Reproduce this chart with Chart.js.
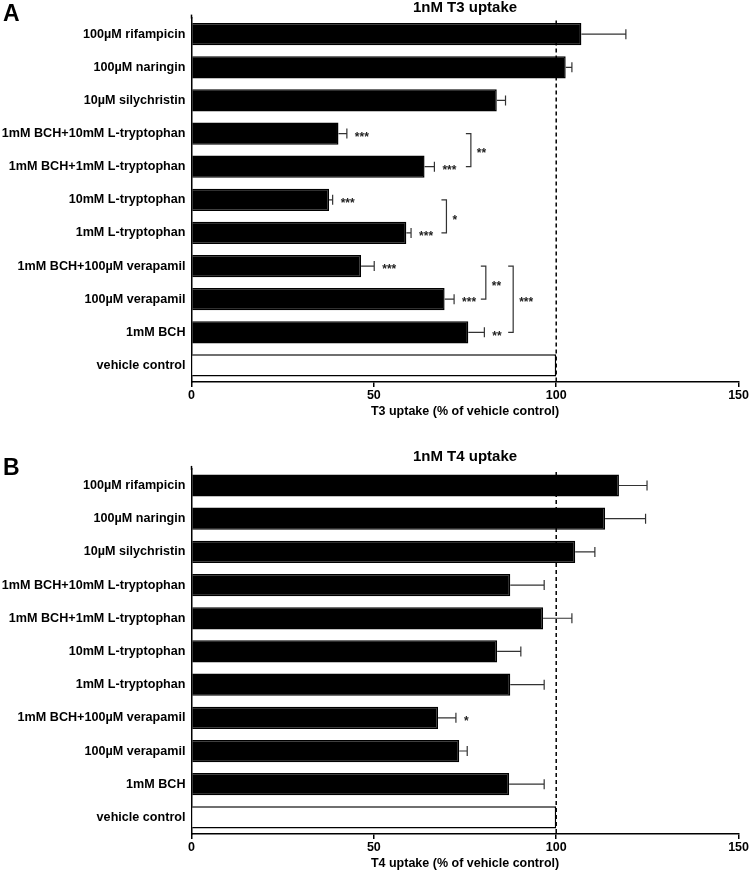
<!DOCTYPE html>
<html>
<head>
<meta charset="utf-8">
<script src="https://cdn.jsdelivr.net/npm/chart.js@4.4.1/dist/chart.umd.min.js"></script>
<style>
  body { margin: 0; background: #fff; }
  #wrap { position: relative; width: 750px; height: 871px; }
  canvas { position: absolute; left: 0; }
</style>
</head>
<body>
<div id="wrap">
  <canvas id="chartT3" width="750" height="435" style="top:0"></canvas>
  <canvas id="chartT4" width="750" height="436" style="top:435px"></canvas>
</div>
<script>
// ============ DATA ============

const categories = [
  '100µM rifampicin',
  '100µM naringin',
  '10µM silychristin',
  '1mM BCH+10mM L-tryptophan',
  '1mM BCH+1mM L-tryptophan',
  '10mM L-tryptophan',
  '1mM L-tryptophan',
  '1mM BCH+100µM verapamil',
  '100µM verapamil',
  '1mM BCH',
  'vehicle control'
];

// T3 uptake (% of vehicle control), mean and SEM
const t3Values = [106.9, 102.6, 83.7, 40.3, 63.9, 37.7, 58.9, 46.5, 69.4, 75.9, 100];
const t3Errors = [12.2, 1.7, 2.4, 2.3, 2.7, 1.0, 1.3, 3.6, 2.6, 4.4, 0];
const t3Stars = [null, null, null, '***', '***', '***', '***', '***', '***', '**', null];
const t3Brackets = [
  { from: 3, to: 4, x: 76.6, label: '**' },
  { from: 5, to: 6, x: 69.9, label: '*' },
  { from: 7, to: 8, x: 80.7, label: '**' },
  { from: 7, to: 9, x: 88.2, label: '***' }
];

// T4 uptake (% of vehicle control)
const t4Values = [117.2, 113.4, 105.2, 87.4, 96.4, 83.8, 87.4, 67.6, 73.4, 87.1, 100];
const t4Errors = [7.7, 11.1, 5.4, 9.3, 7.9, 6.5, 9.3, 4.9, 2.2, 9.6, 0];
const t4Stars = [null, null, null, null, null, null, null, '*', null, null, null];
const t4Brackets = [];

const xTicks = [0, 50, 100, 150];
const refLine = 100;

const FONT = '"Liberation Sans", Arial, Helvetica, sans-serif';
const controlIndex = categories.indexOf('vehicle control');

// ============ ANNOTATION PLUGIN ============

const annotate = {
  id: 'annotate',
  beforeDatasetsDraw(chart, args, opts) {
    const { ctx, chartArea, scales: { x } } = chart;
    const rx = x.getPixelForValue(opts.refLine);
    ctx.save();
    ctx.strokeStyle = '#000';
    ctx.lineWidth = 1.5;
    ctx.setLineDash([4, 3]);
    ctx.beginPath();
    ctx.moveTo(rx, chartArea.top + 3);
    ctx.lineTo(rx, chartArea.bottom);
    ctx.stroke();
    ctx.restore();
  },
  afterDatasetsDraw(chart, args, opts) {
    const { ctx, chartArea, scales: { x, y } } = chart;
    const bars = chart.getDatasetMeta(0).data;
    ctx.save();

    // y axis line runs a little above the first bar band
    ctx.strokeStyle = '#000';
    ctx.lineWidth = 1.5;
    ctx.beginPath();
    ctx.moveTo(chartArea.left, chartArea.top - 3);
    ctx.lineTo(chartArea.left, chartArea.top + 1);
    ctx.stroke();

    // one-sided error bars
    ctx.strokeStyle = '#333';
    ctx.lineWidth = 1.2;
    bars.forEach((bar, i) => {
      const err = opts.errors[i];
      if (!err) return;
      const x0 = x.getPixelForValue(opts.values[i]);
      const x1 = x.getPixelForValue(opts.values[i] + err);
      ctx.beginPath();
      ctx.moveTo(x0, bar.y);
      ctx.lineTo(x1, bar.y);
      ctx.moveTo(x1, bar.y - 5);
      ctx.lineTo(x1, bar.y + 5);
      ctx.stroke();
    });

    // significance stars next to bars
    ctx.fillStyle = '#222';
    ctx.font = 'bold 12px ' + FONT;
    ctx.textAlign = 'left';
    ctx.textBaseline = 'middle';
    opts.stars.forEach((s, i) => {
      if (!s) return;
      const ex = x.getPixelForValue(opts.values[i] + opts.errors[i]);
      ctx.fillText(s, ex + 8, bars[i].y + 4);
    });

    // comparison brackets
    opts.brackets.forEach(b => {
      const bx = x.getPixelForValue(b.x);
      const y1 = y.getPixelForValue(b.from);
      const y2 = y.getPixelForValue(b.to);
      ctx.beginPath();
      ctx.moveTo(bx - 5, y1);
      ctx.lineTo(bx, y1);
      ctx.lineTo(bx, y2);
      ctx.lineTo(bx - 5, y2);
      ctx.stroke();
      ctx.fillText(b.label, bx + 6, (y1 + y2) / 2 + 4);
    });

    // panel title and letter
    ctx.fillStyle = '#000';
    ctx.textAlign = 'center';
    ctx.font = 'bold 15px ' + FONT;
    ctx.fillText(opts.title, (chartArea.left + chartArea.right) / 2, opts.titleY);
    ctx.textAlign = 'left';
    ctx.font = 'bold 23px ' + FONT;
    ctx.fillText(opts.letter, 3, opts.letterY);
    ctx.restore();
  }
};

// ============ CHART FACTORY ============

function makeChart(canvasId, cfg) {
  return new Chart(document.getElementById(canvasId), {
    type: 'bar',
    data: {
      labels: categories,
      datasets: [{
        data: cfg.values,
        backgroundColor: categories.map((c, i) => i === controlIndex ? '#fff' : '#000'),
        borderColor: '#000',
        borderWidth: 1.5,
        barPercentage: 0.67,
        categoryPercentage: 1
      }]
    },
    options: {
      indexAxis: 'y',
      responsive: false,
      animation: false,
      layout: { padding: { top: cfg.top, right: 9, bottom: cfg.bottom, left: 0 } },
      plugins: {
        legend: { display: false },
        tooltip: { enabled: false },
        annotate: {
          values: cfg.values,
          errors: cfg.errors,
          stars: cfg.stars,
          brackets: cfg.brackets,
          refLine: refLine,
          title: cfg.title,
          titleY: cfg.titleY,
          letter: cfg.letter,
          letterY: cfg.letterY
        }
      },
      scales: {
        x: {
          min: 0,
          max: 150,
          afterBuildTicks: s => { s.ticks = xTicks.map(v => ({ value: v })); },
          afterFit: s => { s.height = 37; },
          grid: { drawOnChartArea: false, tickLength: 5, color: '#000', lineWidth: 1.5 },
          border: { display: true, color: '#000', width: 1.5 },
          ticks: { color: '#000', padding: 1, maxRotation: 0, font: { family: FONT, size: 12.5, weight: 'bold' } },
          title: {
            display: true,
            text: cfg.axisTitle,
            color: '#000',
            padding: 0,
            font: { family: FONT, size: 12.5, weight: 'bold' }
          }
        },
        y: {
          afterFit: s => { s.width = 191.5; },
          grid: { display: false, drawTicks: false },
          border: { display: true, color: '#000', width: 1.5 },
          ticks: { color: '#000', padding: 6, autoSkip: false, font: { family: FONT, size: 12.6, weight: 'bold' } }
        }
      }
    },
    plugins: [annotate]
  });
}

makeChart('chartT3', {
  values: t3Values, errors: t3Errors, stars: t3Stars, brackets: t3Brackets,
  title: '1nM T3 uptake', titleY: 7.5, letter: 'A', letterY: 15,
  axisTitle: 'T3 uptake (% of vehicle control)', top: 17.6, bottom: 16
});

makeChart('chartT4', {
  values: t4Values, errors: t4Errors, stars: t4Stars, brackets: t4Brackets,
  title: '1nM T4 uptake', titleY: 22.3, letter: 'B', letterY: 33.5,
  axisTitle: 'T4 uptake (% of vehicle control)', top: 33.9, bottom: 0
});
</script>
</body>
</html>
